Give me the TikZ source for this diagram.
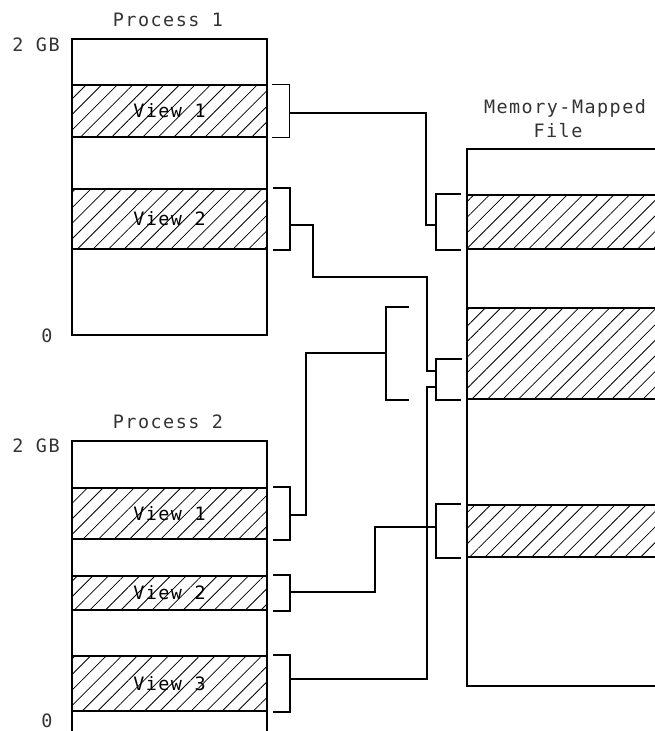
\documentclass[tikz,border=0pt]{standalone}
\usepackage{fontspec}
\setmonofont[LetterSpace=8]{DejaVu Sans Mono}
\usetikzlibrary{patterns.meta}

\tikzset{
  box/.style={draw, minimum width=195bp, inner sep=0pt},
  view/.style={box, pattern={Lines[angle=45,distance=11bp,line width=0.8bp]}},
  fview/.style={draw, minimum width=233bp, inner sep=0pt, pattern={Lines[angle=45,distance=11bp,line width=0.8bp]}},
  lbl/.style={text=black!80, inner sep=0pt}
}

\begin{document}
\begin{tikzpicture}[x=1bp, y=-1bp, line width=1.8bp,
    font=\ttfamily\fontsize{18.5}{20}\selectfont]
\useasboundingbox (0,0) rectangle (655,731);
% process 1
\node[box, minimum height=296bp] (p1) at (169.5,187) {};
\node[view, minimum height=52bp] (p1v1) at (169.5,111) {View 1};
\node[view, minimum height=60bp] (p1v2) at (169.5,219) {View 2};
\node[lbl] (t1) at (168,20) {Process 1};
\node[lbl] (g1) at (36,45) {2 GB};
\node[lbl] (z1) at (47,336) {0};
% process 2
\node[box, minimum height=329bp] (p2) at (169.5,605.5) {};
\node[view, minimum height=51bp] (p2v1) at (169.5,513.5) {View 1};
\node[view, minimum height=34bp] (p2v2) at (169.5,593) {View 2};
\node[view, minimum height=55bp] (p2v3) at (169.5,683.5) {View 3};
\node[lbl] (t2) at (168,422) {Process 2};
\node[lbl] (g2) at (36,446) {2 GB};
\node[lbl] (z2) at (47,721) {0};
% memory-mapped file
\node[draw, minimum width=233bp, minimum height=537bp] (mf) at (583.5,417.5) {};
\node[fview, minimum height=54bp] (mfv1) at (583.5,222) {};
\node[fview, minimum height=91bp] (mfv2) at (583.5,353.5) {};
\node[fview, minimum height=52bp] (mfv3) at (583.5,531) {};
\node[lbl] (tf) at (565,108) {Memory-Mapped};
\node[lbl] (tf2) at (558,131) {File};

\foreach \v in {p1v1,p1v2,p2v1,p2v2,p2v3}
  \draw ([xshift=5bp]\v.north east) -| ([xshift=22bp]\v.south east) -- ([xshift=5bp]\v.south east);
\foreach \v in {mfv1,mfv3}
  \draw ([xshift=-5bp]\v.north west) -| ([xshift=-30bp]\v.south west) -- ([xshift=-5bp]\v.south west);
\draw ([xshift=-57bp]mfv2.north west) -| ([xshift=-80bp]mfv2.south west) -- ([xshift=-57bp]mfv2.south west);
\coordinate (s1) at (462,359);
\coordinate (s2) at ([xshift=-5bp]mfv2.south west);
\draw (s1) -| ([xshift=-25bp]s2) -- (s2);

\coordinate (a11) at ([xshift=22bp,yshift=-2bp]p1v1.east);
\coordinate (a12) at ([xshift=22bp,yshift=-6bp]p1v2.east);
\coordinate (a21) at ([xshift=22bp,yshift=-1.5bp]p2v1.east);
\coordinate (a22) at ([xshift=22bp,yshift=1bp]p2v2.east);
\coordinate (a23) at ([xshift=22bp,yshift=4.5bp]p2v3.east);
\coordinate (f1) at ([xshift=-30bp,yshift=-3bp]mfv1.west);
\coordinate (f2a) at (437,371);
\coordinate (f2b) at (437,387);
\coordinate (f21) at ([xshift=-80bp,yshift=0.5bp]mfv2.west);
\coordinate (f3) at ([xshift=-30bp,yshift=4bp]mfv3.west);

\draw (a11) -| ([xshift=-10bp]f1) -- (f1);
\draw (a12) -| (313,277) -| ([xshift=-10bp]f2a) -- (f2a);
\draw (a21) -| (306,353) -- (f21);
\draw (a22) -| (375,527) -- (f3);
\draw (a23) -| ([xshift=-10bp]f2b) -- (f2b);
\end{tikzpicture}
\end{document}
